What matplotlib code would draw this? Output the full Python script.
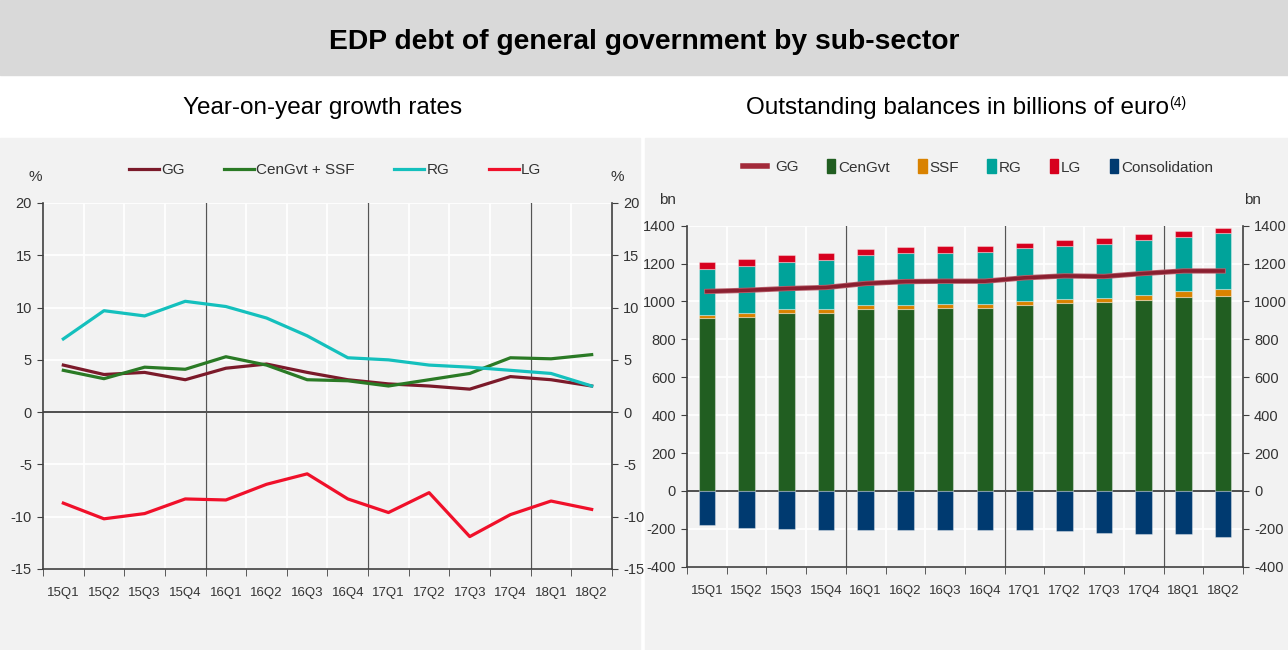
import matplotlib
matplotlib.use('Agg')
import matplotlib.pyplot as plt
import matplotlib.patheffects as pe
from matplotlib.patches import Rectangle, Patch
from matplotlib.lines import Line2D
import numpy as np

# quarters shown on both panels
quarters = ['15Q1', '15Q2', '15Q3', '15Q4', '16Q1', '16Q2', '16Q3', '16Q4',
            '17Q1', '17Q2', '17Q3', '17Q4', '18Q1', '18Q2']

# left panel: year-on-year growth rates (%)
gg_growth = [4.5, 3.6, 3.8, 3.1, 4.2, 4.6, 3.8, 3.1, 2.7, 2.5, 2.2, 3.4, 3.1, 2.5]
cengvt_ssf_growth = [4.0, 3.2, 4.3, 4.1, 5.3, 4.5, 3.1, 3.0, 2.5, 3.1, 3.7, 5.2, 5.1, 5.5]
rg_growth = [7.0, 9.7, 9.2, 10.6, 10.1, 9.0, 7.3, 5.2, 5.0, 4.5, 4.3, 4.0, 3.7, 2.5]
lg_growth = [-8.7, -10.2, -9.7, -8.3, -8.4, -6.9, -5.9, -8.3, -9.6, -7.7, -11.9, -9.8, -8.5, -9.3]

# right panel: outstanding balances (bn euro)
cengvt = [914, 919, 937, 940, 961, 961, 966, 966, 984, 993, 998, 1009, 1024, 1029]
ssf = [16, 19, 21, 20, 18, 20, 20, 20, 16, 18, 21, 24, 29, 35]
rg = [240, 251, 252, 261, 265, 273, 272, 277, 281, 284, 285, 291, 289, 295]
lg = [38, 37, 35, 33, 35, 33, 33, 32, 30, 31, 30, 30, 31, 28]
consolidation = [-181, -195, -202, -206, -206, -204, -204, -206, -206, -211, -220, -229, -230, -243]
gg_total = [1053, 1059, 1068, 1074, 1095, 1105, 1107, 1107, 1125, 1135, 1132, 1148, 1161, 1161]

year_breaks = [3.5, 7.5, 11.5]

plt.rcParams['font.family'] = ['Liberation Sans', 'DejaVu Sans']
plt.rcParams['axes.unicode_minus'] = False
txt = '#333333'
spine_c = '#404040'
panel_bg = '#f2f2f2'

fig = plt.figure(figsize=(12.88, 6.5), dpi=100)

# background blocks
fig.patches.append(Rectangle((0, 1 - 75 / 650), 1, 75 / 650, transform=fig.transFigure,
                             color='#d9d9d9', zorder=-10))
fig.patches.append(Rectangle((0, 0), 640 / 1288, 1 - 138 / 650, transform=fig.transFigure,
                             color=panel_bg, zorder=-10))
fig.patches.append(Rectangle((645 / 1288, 0), 1 - 645 / 1288, 1 - 138 / 650,
                             transform=fig.transFigure, color=panel_bg, zorder=-10))

fig.text(644 / 1288, 1 - 42 / 650, 'EDP debt of general government by sub-sector',
         ha='center', va='center', fontsize=20.3, fontweight='bold', color='black')
fig.text(323 / 1288, 1 - 108 / 650, 'Year-on-year growth rates',
         ha='center', va='center', fontsize=17.5, color='black')
fig.text(957 / 1288, 1 - 108 / 650, 'Outstanding balances in billions of euro',
         ha='center', va='center', fontsize=17.5, color='black')
fig.text(1169 / 1288, 1 - 103 / 650, '(4)', ha='left', va='center', fontsize=10, color='black')

x = np.arange(len(quarters))


def style_axes(ax):
    ax.set_facecolor(panel_bg)
    ax.set_xlim(-0.5, len(quarters) - 0.5)
    ax.set_xticks(x)
    ax.set_xticklabels(quarters)
    ax.set_xticks(np.arange(-0.5, len(quarters), 1), minor=True)
    ax.tick_params(axis='x', which='major', length=0, pad=13, labelsize=9.5, colors=txt)
    ax.tick_params(axis='x', which='minor', length=5, color=spine_c)
    ax.tick_params(axis='y', which='major', left=True, right=True, labelleft=True,
                   labelright=True, length=4, color=spine_c, labelsize=10.5, labelcolor=txt,
                   pad=4)
    ax.grid(which='minor', axis='x', color='white', lw=1.3)
    ax.grid(which='major', axis='y', color='white', lw=1.3)
    ax.set_axisbelow(True)
    ax.spines['top'].set_visible(False)
    for s in ['left', 'right', 'bottom']:
        ax.spines[s].set_color(spine_c)
        ax.spines[s].set_linewidth(1.2)
    ax.axhline(0, color=spine_c, lw=1.3, zorder=2)
    for b in year_breaks:
        ax.axvline(b, color='#555555', lw=0.9, zorder=2)


# left panel
ax1 = fig.add_axes([43 / 1288, 1 - 569 / 650, 569 / 1288, 366 / 650])
style_axes(ax1)
ax1.set_ylim(-15, 20)
ax1.set_yticks(range(-15, 21, 5))
ax1.plot(x, gg_growth, color='#7b1a2a', lw=2.3, label='GG', zorder=4)
ax1.plot(x, cengvt_ssf_growth, color='#2a7a25', lw=2.3, label='CenGvt + SSF', zorder=4)
ax1.plot(x, rg_growth, color='#14c0bd', lw=2.3, label='RG', zorder=4)
ax1.plot(x, lg_growth, color='#f0102a', lw=2.3, label='LG', zorder=4)
ax1.legend(loc='center', bbox_to_anchor=(335 / 1288, 1 - 170 / 650),
           bbox_transform=fig.transFigure, ncol=4, frameon=False, fontsize=11,
           handlelength=1.95, handletextpad=0.15, columnspacing=2.6, labelcolor=txt)
fig.text(35 / 1288, 1 - 177 / 650, '%', ha='center', va='center', fontsize=11, color=txt)
fig.text(617 / 1288, 1 - 177 / 650, '%', ha='center', va='center', fontsize=11, color=txt)

# right panel
ax2 = fig.add_axes([687 / 1288, 1 - 566.7 / 650, 556 / 1288, 341 / 650])
style_axes(ax2)
ax2.set_ylim(-400, 1400)
ax2.set_yticks(range(-400, 1401, 200))

c_cen, c_ssf, c_rg, c_lg, c_con = '#215e21', '#d98200', '#00a39a', '#d7001e', '#003a70'
w = 0.42
edge = dict(edgecolor=(1, 1, 1, 0.35), linewidth=0.8)
bottom = np.zeros(len(quarters))
for vals, col in [(cengvt, c_cen), (ssf, c_ssf), (rg, c_rg), (lg, c_lg)]:
    ax2.bar(x, vals, w, bottom=bottom, color=col, zorder=3, **edge)
    bottom = bottom + np.array(vals)
ax2.bar(x, consolidation, w, color=c_con, zorder=3, **edge)
ax2.plot(x, gg_total, color='#8a1f30', lw=2.6, zorder=5,
         path_effects=[pe.Stroke(linewidth=3.8, foreground='#b8606c'), pe.Normal()])

leg1 = ax2.legend(handles=[Line2D([], [], color='#a32a3a', lw=4)], labels=['GG'],
                  loc='center left', bbox_to_anchor=(729 / 1288, 1 - 167 / 650),
                  bbox_transform=fig.transFigure, frameon=False, fontsize=11,
                  handlelength=1.6, handletextpad=0.5, labelcolor=txt)
ax2.add_artist(leg1)
bar_handles = [Patch(color=c) for c in [c_cen, c_ssf, c_rg, c_lg, c_con]]
ax2.legend(handles=bar_handles, labels=['CenGvt', 'SSF', 'RG', 'LG', 'Consolidation'],
           loc='center left', bbox_to_anchor=(813 / 1288, 1 - 167 / 650),
           bbox_transform=fig.transFigure, ncol=5, frameon=False, fontsize=11,
           handlelength=0.55, handleheight=1.0, handletextpad=0.2, columnspacing=1.85,
           labelcolor=txt)
fig.text(667 / 1288, 1 - 200 / 650, 'bn', ha='center', va='center', fontsize=11, color=txt)
fig.text(1252 / 1288, 1 - 200 / 650, 'bn', ha='center', va='center', fontsize=11, color=txt)

fig.savefig('out.png', dpi=100, facecolor='white')
